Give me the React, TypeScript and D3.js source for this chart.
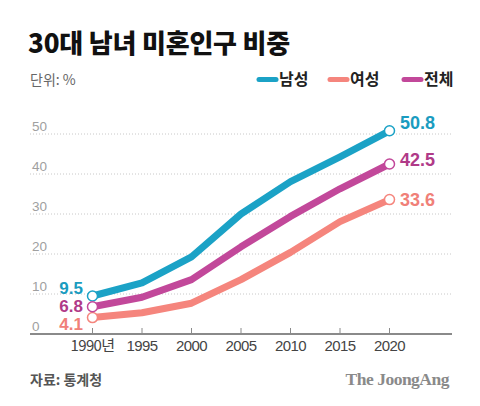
import { scaleLinear, line } from "d3";

const years = [1990, 1995, 2000, 2005, 2010, 2015, 2020];
const men = [9.5, 12.8, 19.3, 30.0, 38.1, 44.3, 50.8];
const women = [4.1, 5.3, 7.7, 13.6, 20.4, 28.1, 33.6];
const total = [6.8, 9.2, 13.6, 21.8, 29.4, 36.3, 42.5];
const yTicks = [0, 10, 20, 30, 40, 50];
const xTickLabels = ["1990년", "1995", "2000", "2005", "2010", "2015", "2020"];

const series = [
    { name: "남성", values: men, color: "#1ba2c6", text: "#1a9cc0", startDy: -8, endDy: -8 },
    { name: "여성", values: women, color: "#f5857d", text: "#f08078", startDy: 6, endDy: 0 },
    { name: "전체", values: total, color: "#c2489a", text: "#b03a88", startDy: -1, endDy: -4 },
];

const KR = "'Noto Sans CJK KR', 'Noto Sans', sans-serif";
const SANS = "'Liberation Sans', Arial, sans-serif";

export default function App() {
    const width = 480;
    const height = 406;
    const x = scaleLinear([1990, 2020], [92.5, 389.5]);
    const y = scaleLinear([0, 50], [334, 134]);
    const gridLeft = 30;
    const gridRight = 452;

    const path = line<number>((_, i) => x(years[i]), (d) => y(d));
    const drawOrder = [series[1], series[2], series[0]];
    const legendX = [257, 328, 402];

    return (
        <svg
            width={width}
            height={height}
            style={{ position: "absolute", left: 0, top: 0, background: "#fff" }}
            fontFamily={KR}
        >
            <text x={28} y={53} fontSize={26} fontWeight={900} fill="#111" letterSpacing={-0.2}>
                30대 남녀 미혼인구 비중
            </text>
            <text x={30} y={85} fontSize={14} fill="#666">
                단위: %
            </text>

            {series.map((s, i) => (
                <g key={s.name}>
                    <line
                        x1={legendX[i] + 2}
                        x2={legendX[i] + 19}
                        y1={79.5}
                        y2={79.5}
                        stroke={s.color}
                        strokeWidth={5}
                        strokeLinecap="round"
                    />
                    <text x={legendX[i] + 22} y={85} fontSize={16} fontWeight={700} fill="#222">
                        {s.name}
                    </text>
                </g>
            ))}

            {yTicks.map((t) => (
                <g key={t}>
                    {t > 0 && (
                        <line
                            x1={gridLeft}
                            x2={gridRight}
                            y1={y(t)}
                            y2={y(t)}
                            stroke="#c8c8c8"
                            strokeWidth={1}
                            strokeDasharray="1,2"
                        />
                    )}
                    <text x={32} y={y(t) - 3} fontSize={13.5} fill="#a0a0a0" fontFamily={SANS}>
                        {t}
                    </text>
                </g>
            ))}

            <line x1={gridLeft} x2={gridRight} y1={y(0)} y2={y(0)} stroke="#8a8a8a" strokeWidth={2} />
            {years.map((yr, i) => (
                <g key={yr}>
                    <line x1={x(yr)} x2={x(yr)} y1={y(0)} y2={y(0) - 6} stroke="#8a8a8a" strokeWidth={1} />
                    <text
                        x={x(yr)}
                        y={351}
                        fontSize={15}
                        fill="#444"
                        textAnchor="middle"
                        fontFamily={i === 0 ? KR : SANS}
                        letterSpacing={-0.6}
                    >
                        {xTickLabels[i]}
                    </text>
                </g>
            ))}

            {drawOrder.map((s) => (
                <path
                    key={s.name}
                    d={path(s.values) ?? ""}
                    fill="none"
                    stroke={s.color}
                    strokeWidth={7}
                    strokeLinejoin="round"
                />
            ))}

            {series.map((s) => {
                const first = s.values[0];
                const last = s.values[s.values.length - 1];
                const x0 = x(years[0]);
                const x1 = x(years[years.length - 1]);
                return (
                    <g key={s.name}>
                        <circle cx={x0} cy={y(first)} r={5} fill="#fff" stroke={s.color} strokeWidth={1.5} />
                        <circle cx={x1} cy={y(last)} r={5} fill="#fff" stroke={s.color} strokeWidth={1.5} />
                        <text
                            x={83}
                            y={y(first) + s.startDy + 6}
                            fontSize={17}
                            fontWeight={700}
                            fill={s.text}
                            textAnchor="end"
                            fontFamily={SANS}
                        >
                            {first.toFixed(1)}
                        </text>
                        <text
                            x={400}
                            y={y(last) + s.endDy + 6}
                            fontSize={18}
                            fontWeight={700}
                            fill={s.text}
                            fontFamily={SANS}
                        >
                            {last.toFixed(1)}
                        </text>
                    </g>
                );
            })}

            <text x={30} y={385} fontSize={14} fill="#555" fontWeight={700}>
                자료: 통계청
            </text>
            <text
                x={449}
                y={385}
                fontSize={17.5}
                fill="#8a8a8a"
                fontWeight={700}
                textAnchor="end"
                fontFamily="'Liberation Serif', 'DejaVu Serif', serif"
                letterSpacing={-0.5}
            >
                The JoongAng
            </text>
        </svg>
    );
}
